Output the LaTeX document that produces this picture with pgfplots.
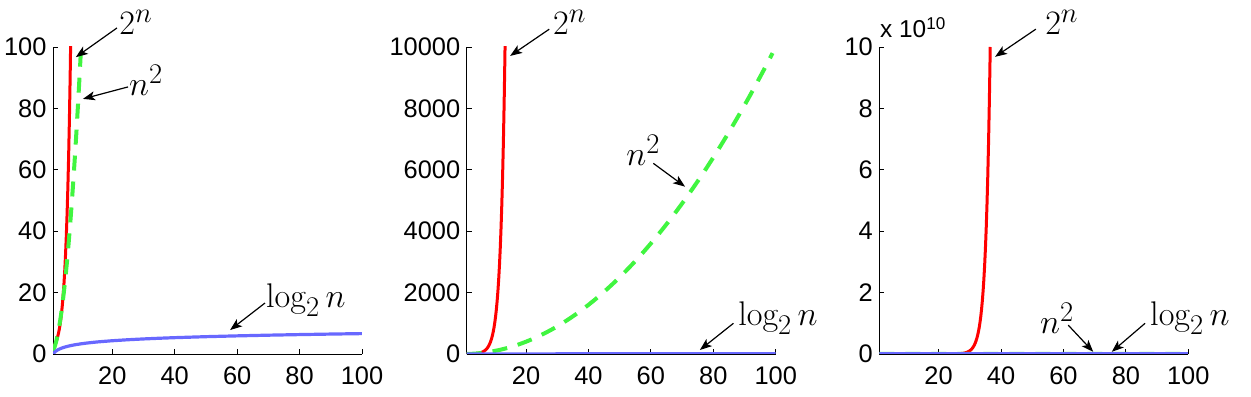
\documentclass[border=0pt]{standalone}
\usepackage{fontspec}
\usepackage{graphicx}
\usepackage{pgfplots}
\pgfplotsset{compat=1.18}
\usepackage{pgfplotstable}
\usetikzlibrary{arrows.meta}
\newfontfamily\arialf{Liberation Sans}
\definecolor{cred}{RGB}{255,0,0}
\definecolor{cgreen}{RGB}{64,245,64}
\definecolor{cblue}{RGB}{104,104,255}
\newcommand{\bigmath}[1]{\scalebox{1.38}{\fontsize{24.88}{30}\selectfont #1}}

\pgfplotstableread{
n v
1 2
1.25 2.378414
1.5 2.828427
1.75 3.363586
2 4
2.25 4.756828
2.5 5.656854
2.75 6.727171
3 8
3.25 9.513657
3.5 11.313708
3.75 13.454343
4 16
4.25 19.027314
4.5 22.627417
4.75 26.908685
5 32
5.25 38.054628
5.5 45.254834
5.75 53.817370
6 64
6.25 76.109255
6.5 90.509668
6.75 107.634741
7 128
7.25 152.218511
7.5 181.019336
7.75 215.269482
8 256
8.25 304.437021
8.5 362.038672
8.75 430.538965
9 512
9.25 608.874043
9.5 724.077344
9.75 861.077929
10 1024
10.25 1217.748
10.5 1448.155
10.75 1722.156
11 2048
11.25 2435.496
11.5 2896.309
11.75 3444.312
12 4096
12.25 4870.992
12.5 5792.619
12.75 6888.623
13 8192
13.25 9741.98
13.5 11585.24
13.75 13777.25
14 16384
14.5 23170.48
15 32768
15.5 46340.95
16 65536
16.5 92681.90
17 131072
17.5 185363.8
18 262144
18.5 370727.6
19 524288
19.5 741455.2
20 1048576
20.5 1482910
21 2097152
21.5 2965821
22 4194304
22.5 5931642
23 8388608
23.5 11863283
24 16777216
24.5 23726566
25 33554432
25.5 47453133
26 67108864
26.5 94906266
27 134217728
27.25 159612672
27.5 189812531
27.75 225726400
28 268435456
28.25 319225344
28.5 379625062
28.75 451452800
29 536870912
29.25 638450688
29.5 759250125
29.75 902905600
30 1073741824
30.25 1276901376
30.5 1518500250
30.75 1805811200
31 2147483648
31.25 2553802752
31.5 3037000500
31.75 3611622400
32 4294967296
32.25 5107605504
32.5 6074001000
32.75 7223244800
33 8589934592
33.25 10215211008
33.5 12148002000
33.75 14446489600
34 17179869184
34.25 20430422016
34.5 24296004000
34.75 28892979200
35 34359738368
35.25 40860844032
35.5 48592008000
35.75 57785958400
36 68719476736
36.25 81721688064
36.5 97184016000
36.541 100000000000
}\tablered

\pgfplotstableread{
n v
1 1
1.5 2.25
2 4
2.5 6.25
3 9
3.5 12.25
4 16
4.5 20.25
5 25
5.5 30.25
6 36
6.5 42.25
7 49
7.5 56.25
8 64
8.5 72.25
9 81
9.5 90.25
10 100
10.5 110.25
11 121
12 144
13 169
14 196
15 225
16 256
18 324
20 400
22 484
24 576
26 676
28 784
30 900
32 1024
34 1156
36 1296
38 1444
40 1600
42 1764
44 1936
46 2116
48 2304
50 2500
52 2704
54 2916
56 3136
58 3364
60 3600
62 3844
64 4096
66 4356
68 4624
70 4900
72 5184
74 5476
76 5776
78 6084
80 6400
82 6724
84 7056
86 7396
88 7744
90 8100
92 8464
94 8836
96 9216
98 9604
99 9801
}\tablegreen

\pgfplotstableread{
n v
1 0
1.05 0.0704
1.1 0.1375
1.2 0.2630
1.3 0.3785
1.5 0.5850
1.75 0.8074
2 1
2.5 1.3219
3 1.5850
4 2
5 2.3219
6 2.5850
7 2.8074
8 3
10 3.3219
12 3.5850
14 3.8074
16 4
20 4.3219
25 4.6439
30 4.9069
35 5.1293
40 5.3219
50 5.6439
60 5.9069
70 6.1293
80 6.3219
90 6.4919
100 6.6439
}\tableblue

\pgfplotsset{
  panel/.style={
    scale only axis, width=309bp, height=307bp,
    anchor=south west,
    xmin=1, xmax=100,
    axis x line*=bottom, axis y line*=left,
    axis line style={line width=0.8bp, black},
    tick style={line width=0.8bp, black},
    tick align=inside, major tick length=5bp,
    xtick={20,40,60,80,100},
    tick label style={font=\arialf\fontsize{25.5}{30}\selectfont},
    xticklabel style={yshift=-9bp},
    yticklabel style={xshift=-3bp},
    /pgf/number format/assume math mode=true,
    /pgf/number format/set thousands separator={},
    scaled y ticks=false,
  },
  redl/.style={color=cred, line width=3bp},
  greenl/.style={color=cgreen, line width=4bp, dash pattern=on 15bp off 11bp},
  bluel/.style={color=cblue, line width=3.2bp},
}
\tikzset{
  lab/.style={inner sep=0pt},
  arr/.style={-{Stealth[length=12bp,width=9bp,inset=3bp]}, line width=1.2bp, black},
}

\begin{document}
\begin{tikzpicture}
% Panel 1
\begin{axis}[panel, at={(53bp,43bp)}, ymin=0, ymax=100, ytick={0,20,40,60,80,100},
  restrict y to domain=-10:2000]
\addplot[redl, no marks] table[x=n,y=v] {\tablered};
\addplot[greenl, no marks] table[x=n,y=v] {\tablegreen};
\addplot[bluel, no marks] table[x=n,y=v] {\tableblue};
\end{axis}
\begin{scope}[shift={(53bp,43bp)}, x=309bp, y=307bp]
\draw[arr] (0.207,1.062) -- (0.074,0.967);
\node[lab, anchor=west] at (0.214,1.081) {\bigmath{$2^n$}};
\draw[arr] (0.243,0.870) -- (0.097,0.831);
\node[lab, anchor=west] at (0.246,0.892) {\bigmath{$n^2$}};
\draw[arr] (0.686,0.166) -- (0.573,0.078);
\node[lab, anchor=west] at (0.689,0.176) {\bigmath{$\log_2 n$}};
\end{scope}

% Panel 2
\begin{axis}[panel, at={(466.7bp,43bp)}, ymin=0, ymax=10000, ytick={0,2000,4000,6000,8000,10000},
  restrict y to domain=-10:200000]
\addplot[redl, no marks] table[x=n,y=v] {\tablered};
\addplot[greenl, no marks] table[x=n,y=v] {\tablegreen};
\addplot[bluel, no marks] table[x=n,y=v] {\tableblue};
\end{axis}
\begin{scope}[shift={(466.7bp,43bp)}, x=308bp, y=307bp]
\draw[arr] (0.268,1.058) -- (0.141,0.971);
\node[lab, anchor=west] at (0.280,1.081) {\bigmath{$2^n$}};
\draw[arr] (0.606,0.621) -- (0.709,0.545);
\node[lab] at (0.573,0.664) {\bigmath{$n^2$}};
\draw[arr] (0.866,0.100) -- (0.757,0.013);
\node[lab, anchor=west] at (0.881,0.117) {\bigmath{$\log_2 n$}};
\end{scope}

% Panel 3
\begin{axis}[panel, at={(879.3bp,43bp)}, ymin=0, ymax=100000000000,
  ytick={0,20000000000,40000000000,60000000000,80000000000,100000000000},
  yticklabels={0,2,4,6,8,10}]
\addplot[redl, no marks] table[x=n,y=v] {\tablered};
\addplot[greenl, no marks] table[x=n,y=v] {\tablegreen};
\addplot[bluel, no marks] table[x=n,y=v] {\tableblue};
\end{axis}
\begin{scope}[shift={(879.3bp,43bp)}, x=308.7bp, y=307bp]
\draw[arr] (0.507,1.058) -- (0.375,0.968);
\node[lab, anchor=west] at (0.537,1.081) {\bigmath{$2^n$}};
\draw[arr] (0.612,0.094) -- (0.693,0.007);
\node[lab] at (0.576,0.117) {\bigmath{$n^2$}};
\draw[arr] (0.861,0.100) -- (0.753,0.007);
\node[lab, anchor=west] at (0.877,0.117) {\bigmath{$\log_2 n$}};
\node[anchor=west, inner sep=0pt, font=\arialf\fontsize{24.5}{28}\selectfont] at (0.002,1.063) {x 10\textsuperscript{10}};
\end{scope}

\pgfresetboundingbox
\path[use as bounding box] (0bp,0bp) rectangle (1251bp,397bp);
\end{tikzpicture}
\end{document}
